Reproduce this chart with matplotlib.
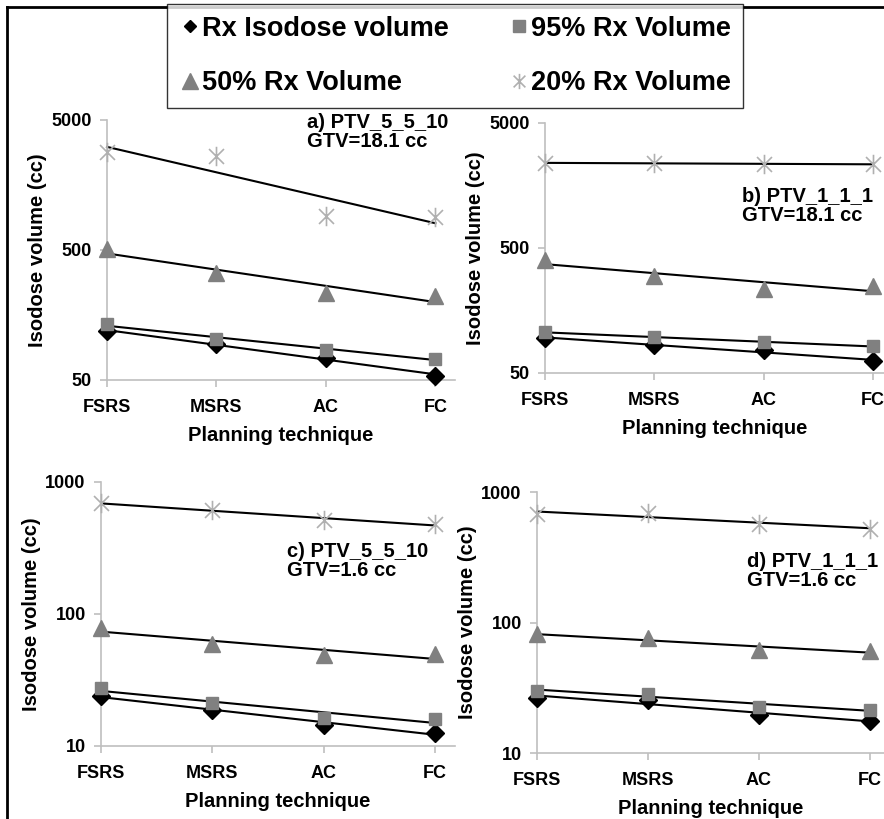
import numpy as np
import matplotlib
matplotlib.use("Agg")
import matplotlib.pyplot as plt
from matplotlib.path import Path
from matplotlib.lines import Line2D

plt.rcParams['font.family'] = ['Liberation Sans', 'DejaVu Sans']
plt.rcParams['font.weight'] = 'bold'

categories = ["FSRS", "MSRS", "AC", "FC"]
series_names = ["Rx Isodose volume", "95% Rx Volume", "50% Rx Volume", "20% Rx Volume"]

# panel a) PTV_5_5_10, GTV=18.1 cc
a_rx = [119, 94, 74, 54]
a_95 = [134, 104, 85, 73]
a_50 = [509, 335, 232, 221]
a_20 = [2850, 2640, 918, 902]
# panel b) PTV_1_1_1, GTV=18.1 cc
b_rx = [95, 84, 76, 62]
b_95 = [106, 97, 88, 82]
b_50 = [403, 296, 235, 250]
b_20 = [2390, 2390, 2360, 2330]
# panel c) PTV_5_5_10, GTV=1.6 cc
c_rx = [23.9, 18.8, 14.4, 12.6]
c_95 = [27.3, 21.3, 16.4, 16.0]
c_50 = [78.7, 59.2, 48.9, 49.4]
c_20 = [693, 611, 513, 479]
# panel d) PTV_1_1_1, GTV=1.6 cc
d_rx = [26.6, 25.5, 19.6, 17.5]
d_95 = [30.1, 28.4, 22.7, 21.4]
d_50 = [81.1, 75.7, 61.6, 60.5]
d_20 = [682, 690, 566, 525]

panel_titles = ["a) PTV_5_5_10\nGTV=18.1 cc", "b) PTV_1_1_1\nGTV=18.1 cc",
                "c) PTV_5_5_10\nGTV=1.6 cc", "d) PTV_1_1_1\nGTV=1.6 cc"]
y_ticks_top = [50, 500, 5000]
y_ticks_bottom = [10, 100, 1000]

star = Path([(-1, -1), (1, 1), (-1, 1), (1, -1), (0, -1.3), (0, 1.3)],
            [Path.MOVETO, Path.LINETO, Path.MOVETO, Path.LINETO, Path.MOVETO, Path.LINETO])

styles = [
    dict(marker='D', color='black', mfc='black', mec='black', ms=9),
    dict(marker='s', color='#808080', mfc='#808080', mec='#808080', ms=9),
    dict(marker='^', color='#808080', mfc='#808080', mec='#808080', ms=11),
    dict(marker=star, color='#b0b0b0', mfc='none', mec='#b0b0b0', ms=14, mew=1.2),
]
legend_ms = [6.5, 9, 11, 11]

W, H = 884, 819
fig = plt.figure(figsize=(W / 100, H / 100), dpi=100)
fig.patch.set_facecolor('white')

def px_axes(left, right, top, bottom):
    return fig.add_axes([left / W, 1 - bottom / H, (right - left) / W, (bottom - top) / H])

panels = [
    (px_axes(107, 455, 120, 380), [a_rx, a_95, a_50, a_20], (1, 4.18), (50, 5000), y_ticks_top,
     panel_titles[0], (307, 132)),
    (px_axes(545, 884, 123, 373), [b_rx, b_95, b_50, b_20], (1, 4.10), (50, 5000), y_ticks_top,
     panel_titles[1], (742, 206)),
    (px_axes(101, 455, 482, 746), [c_rx, c_95, c_50, c_20], (1, 4.18), (10, 1000), y_ticks_bottom,
     panel_titles[2], (287, 561)),
    (px_axes(537, 884, 492, 753), [d_rx, d_95, d_50, d_20], (1, 4.13), (10, 1000), y_ticks_bottom,
     panel_titles[3], (747, 571)),
]

x = np.arange(1, len(categories) + 1)
xf = np.linspace(1, 4, 50)
for ax, data, xlim, ylim, yt, title, tpos in panels:
    for vals, st in zip(data, styles):
        # exponential trend line
        coef = np.polyfit(x, np.log(vals), 1)
        ax.plot(xf, np.exp(np.polyval(coef, xf)), color='black', lw=1.5, zorder=2,
                clip_on=False)
        ax.plot(x, vals, linestyle='none', zorder=3, clip_on=False, **st)
    ax.set_yscale('log')
    ax.set_ylim(*ylim)
    ax.set_xlim(*xlim)
    ax.set_yticks(yt)
    ax.set_yticklabels([str(v) for v in yt])
    ax.yaxis.set_minor_locator(matplotlib.ticker.NullLocator())
    ax.set_xticks(x)
    ax.set_xticklabels(categories)
    for s in ['top', 'right']:
        ax.spines[s].set_visible(False)
    for s in ['left', 'bottom']:
        ax.spines[s].set_color('#bfbfbf')
        ax.spines[s].set_linewidth(1.2)
    ax.tick_params(axis='both', colors='#bfbfbf', length=5, width=1.2, labelcolor='black',
                   labelsize=13, pad=6)
    ax.tick_params(axis='x', pad=9)
    for lab in ax.get_xticklabels() + ax.get_yticklabels():
        lab.set_fontweight('bold')
    ax.set_xlabel("Planning technique", fontsize=14.5, fontweight='bold', labelpad=7)
    ax.set_ylabel("Isodose volume (cc)", fontsize=14.5, fontweight='bold', labelpad=3)
    ax.patch.set_alpha(0)
    fig.text(tpos[0] / W, 1 - tpos[1] / H, title, fontsize=14.5, fontweight='bold',
             ha='left', va='center', linespacing=1.05)

# Legend (row-wise order: Rx, 95% / 50%, 20%)
order = [0, 2, 1, 3]
handles = []
for i in order:
    st = dict(styles[i])
    st['ms'] = legend_ms[i]
    handles.append(Line2D([], [], linestyle='none', **st))
labels = [series_names[i] for i in order]
leg = fig.legend(handles, labels, loc='center', ncol=2,
                 bbox_to_anchor=((161 + 749) / 2 / W, 1 - 56 / H),
                 frameon=True, fancybox=False, edgecolor='black',
                 prop={'size': 19.5, 'weight': 'bold'}, handletextpad=0.05,
                 columnspacing=2.2, labelspacing=1.05, handlelength=0.8,
                 borderpad=0.45, borderaxespad=0)
leg.get_frame().set_linewidth(1.0)

# outer border (left and top)
fig.add_artist(Line2D([7 / W, 7 / W], [0, 1 - 7 / H], color='black', lw=2, transform=fig.transFigure))
fig.add_artist(Line2D([7 / W, 1], [1 - 7 / H, 1 - 7 / H], color='black', lw=2, transform=fig.transFigure))

fig.savefig("out.png", dpi=100, facecolor='white')
